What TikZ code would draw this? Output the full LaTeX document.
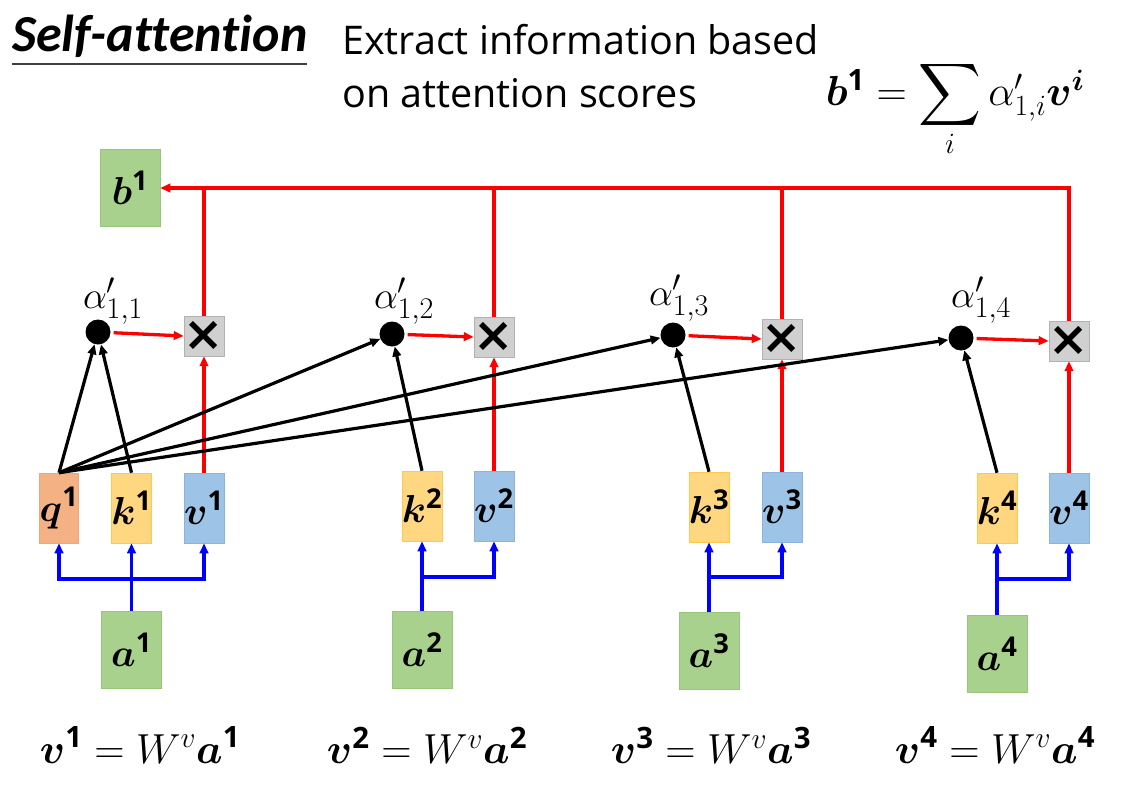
\RequirePackage{fix-cm}
\documentclass[tikz,border=0pt]{standalone}
\usepackage{amsmath,bm,graphicx}
\usepackage{fontspec}
\setmainfont{Open Sans}
\newfontfamily\titlefont[Ligatures={NoCommon}]{Carlito}
\newfontfamily\symfont{DejaVu Sans}
\usetikzlibrary{arrows.meta}
\DeclareMathSizes{38}{38}{30}{22}
\definecolor{qfill}{HTML}{F4B183}
\definecolor{qdraw}{HTML}{F2A57A}
\definecolor{kfill}{HTML}{FFD780}
\definecolor{kdraw}{HTML}{FFC94D}
\definecolor{vfill}{HTML}{9DC3E6}
\definecolor{vdraw}{HTML}{8AB4DE}
\definecolor{gfill}{HTML}{A9D18E}
\definecolor{gdraw}{HTML}{98C47C}
\definecolor{xfill}{HTML}{D0D0D0}
\definecolor{redl}{HTML}{FF0000}
\definecolor{bluel}{HTML}{0000FF}
\newcommand\mfs{\fontsize{39}{44}\selectfont}
\newcommand\lfs{\fontsize{38}{42}\selectfont}
\newcommand\efs{\fontsize{42}{48}\selectfont}
\begin{document}
\begin{tikzpicture}[x=1pt,y=-1pt,
  box/.style={draw, line width=0.6pt, minimum width=38pt, minimum height=70pt, inner sep=0pt, font=\mfs},
  qbox/.style={box, fill=qfill, draw=qdraw},
  kbox/.style={box, fill=kfill, draw=kdraw},
  vbox/.style={box, fill=vfill, draw=vdraw},
  gbox/.style={box, fill=gfill, draw=gdraw, minimum width=60pt, minimum height=77pt},
  xbox/.style={draw=xfill!85!black, line width=0.4pt, fill=xfill, minimum width=39pt, minimum height=40pt, inner sep=0pt, font=\symfont\bfseries\fontsize{48}{48}\selectfont},
  dot/.style={circle, fill=black, minimum size=25pt, inner sep=0pt},
  alab/.style={inner sep=0pt, font=\lfs},
  redline/.style={draw=redl, line width=3.3pt},
  redarr/.style={redline, -{Triangle[length=10pt,width=8.5pt]}},
  blackarr/.style={draw=black, line width=3.2pt, -{Triangle[length=10pt,width=8.5pt]}},
  bluearr/.style={draw=bluel, line width=3.4pt, -{Triangle[length=10pt,width=8.5pt]}},
  eq/.style={inner sep=0pt, font=\efs},
  desc/.style={anchor=base west, inner sep=0pt, font=\fontsize{39.5}{48}\selectfont}
]
\useasboundingbox (0,0) rectangle (1131,797);

% title
\node[anchor=base west, inner sep=0pt, font=\titlefont\fontsize{52}{60}\selectfont\bfseries\itshape] (title) at (12,52) {Self-attention};
\draw[line width=2pt, black!75] (12,64) -- (307,64);
\node[desc] (desc1) at (342,55) {Extract information based};
\node[desc] (desc2) at (342,107) {on attention scores};
\node[inner sep=0pt, font=\fontsize{42}{46}\selectfont] (formula) at (955,108) {$\bm{b}^{\mathbf{1}} = \mathop{\vcenter{\hbox{\scalebox{1.75}{$\displaystyle\sum$}}}}\limits_{\raisebox{-6pt}{$\scriptstyle i$}} \alpha'_{1,i}\bm{v}^{\bm{i}}$};

% boxes
\node[gbox] (b1) at (130,188) {$\bm{b}^{\mathbf{1}}$};

\node[qbox] (q1) at (59,508) {$\bm{q}^{\mathbf{1}}$};
\node[kbox] (k1) at (131.5,508) {$\bm{k}^{\mathbf{1}}$};
\node[vbox] (v1) at (204,508) {$\bm{v}^{\mathbf{1}}$};
\node[kbox] (k2) at (422,506) {$\bm{k}^{\mathbf{2}}$};
\node[vbox] (v2) at (494,506) {$\bm{v}^{\mathbf{2}}$};
\node[kbox] (k3) at (709,507) {$\bm{k}^{\mathbf{3}}$};
\node[vbox] (v3) at (782,507) {$\bm{v}^{\mathbf{3}}$};
\node[kbox] (k4) at (997,508) {$\bm{k}^{\mathbf{4}}$};
\node[vbox] (v4) at (1069,508) {$\bm{v}^{\mathbf{4}}$};

\node[gbox] (a1) at (131.5,649.5) {$\bm{a}^{\mathbf{1}}$};
\node[gbox] (a2) at (422,649.5) {$\bm{a}^{\mathbf{2}}$};
\node[gbox] (a3) at (709,651) {$\bm{a}^{\mathbf{3}}$};
\node[gbox] (a4) at (997,654) {$\bm{a}^{\mathbf{4}}$};

\node[xbox] (x1) at (204,336) {×};
\node[xbox] (x2) at (494,337) {×};
\node[xbox] (x3) at (782,339) {×};
\node[xbox] (x4) at (1069,341) {×};

\node[dot] (d1) at (98,332) {};
\node[dot] (d2) at (392,334) {};
\node[dot] (d3) at (673,335) {};
\node[dot] (d4) at (961,338) {};

\node[alab] (l1) at (113,301) {$\alpha'_{1,1}$};
\node[alab] (l2) at (404,301) {$\alpha'_{1,2}$};
\node[alab] (l3) at (679,298) {$\alpha'_{1,3}$};
\node[alab] (l4) at (981,300) {$\alpha'_{1,4}$};

% red connectors
\draw[redarr] (x4.north) |- (b1.east);
\foreach \x in {x1,x2,x3} \draw[redline] (\x.north) -- (\x.north |- b1.east);
\foreach \d/\x in {d1/x1,d2/x2,d3/x3,d4/x4} \draw[redarr, shorten <=3pt] (\d) -- (\x.west);
\foreach \v/\x in {v1/x1,v2/x2,v3/x3,v4/x4} \draw[redarr] (\v.north) -- (\x.south);

% black connectors
\foreach \d in {d1,d2,d3,d4} \draw[blackarr] (q1.north) -- (\d);
\foreach \k/\d in {k1/d1,k2/d2,k3/d3,k4/d4} \draw[blackarr] (\k.north) -- (\d);

% blue connectors
\coordinate (j1) at (131.5,579);
\draw[bluearr] (j1) -| (q1.south);
\draw[bluearr] (j1) -| (v1.south);
\draw[bluearr] (a1.north) -- (k1.south);
\foreach \a/\k/\v/\y in {a2/k2/v2/577, a3/k3/v3/577, a4/k4/v4/579} {
  \draw[bluearr] (\a.north) -- (\k.south);
  \draw[bluearr] (\k.south |- 0,\y) -| (\v.south);
}

% bottom equations
\node[eq] (e1) at (140,745) {$\bm{v}^{\mathbf{1}} = W^{v}\bm{a}^{\mathbf{1}}$};
\node[eq] (e2) at (427,745) {$\bm{v}^{\mathbf{2}} = W^{v}\bm{a}^{\mathbf{2}}$};
\node[eq] (e3) at (711,745) {$\bm{v}^{\mathbf{3}} = W^{v}\bm{a}^{\mathbf{3}}$};
\node[eq] (e4) at (995,745) {$\bm{v}^{\mathbf{4}} = W^{v}\bm{a}^{\mathbf{4}}$};
\end{tikzpicture}
\end{document}
